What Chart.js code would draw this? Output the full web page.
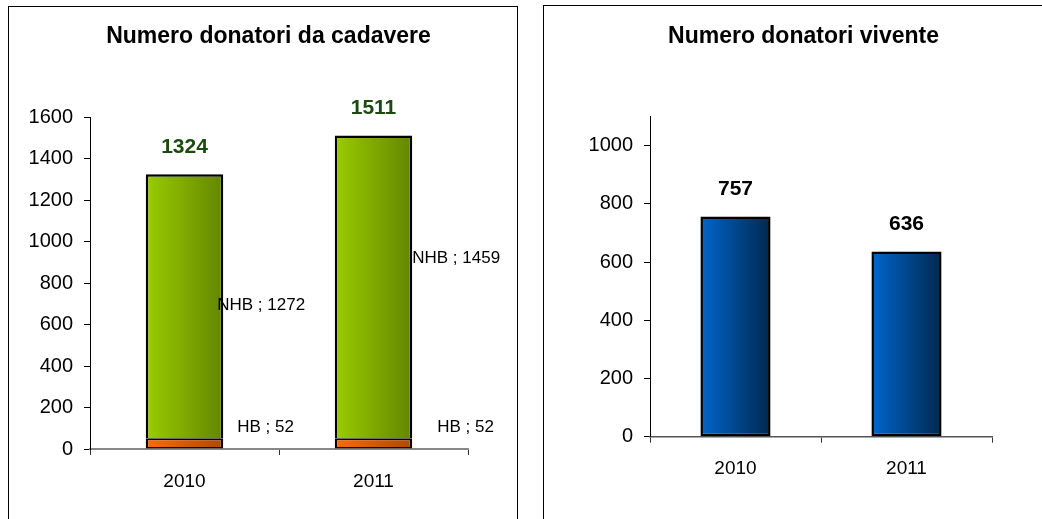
<!DOCTYPE html>
<html><head><meta charset="utf-8">
<script src="https://cdn.jsdelivr.net/npm/chart.js@4.4.1/dist/chart.umd.min.js"></script>
<style>
html,body{margin:0;padding:0;background:#fff;overflow:hidden;width:1042px;height:519px;}
.box{position:absolute;border:1px solid #000;background:#fff;}
#b1{left:8px;top:6px;width:508px;height:530px;}
#b2{left:543px;top:5px;width:540px;height:530px;}
canvas{display:block}
</style></head><body>
<div class="box" id="b1"><canvas id="c1" width="508" height="512"></canvas></div>
<div class="box" id="b2"><canvas id="c2" width="498" height="513"></canvas></div>
<script>
// ---- data ----
const years = ['2010', '2011'];
const hbValues = [52, 52];
const nhbValues = [1272, 1459];
const livingValues = [757, 636];
const title1 = 'Numero donatori da cadavere';
const title2 = 'Numero donatori vivente';
const hbName = 'HB';
const nhbName = 'NHB';

Chart.defaults.font.family = "'Liberation Sans', Arial, sans-serif";
Chart.defaults.color = '#000';
Chart.defaults.animation = false;

function grad(c1, c2) {
  return function (ctx) {
    const chart = ctx.chart;
    const xs = chart.scales && chart.scales.x;
    if (!chart.chartArea || !xs) return c1;
    const cx = xs.getPixelForValue(ctx.dataIndex);
    const w = (xs.width / chart.data.labels.length) * 0.41;
    const g = chart.ctx.createLinearGradient(cx - w / 2, 0, cx + w / 2, 0);
    g.addColorStop(0, c1);
    g.addColorStop(1, c2);
    return g;
  };
}

const labelPlugin = {
  id: 'labels',
  afterDraw(chart, args, opts) {
    const ctx = chart.ctx;
    ctx.save();
    ctx.fillStyle = '#000';
    ctx.textAlign = 'center';
    ctx.textBaseline = 'middle';
    ctx.font = "bold 23px 'Liberation Sans', Arial, sans-serif";
    ctx.fillText(opts.title, opts.titleX, opts.titleY);
    const ys = chart.scales.y;
    const last = chart.getDatasetMeta(chart.data.datasets.length - 1);
    // totals
    ctx.font = "bold 21px 'Liberation Sans', Arial, sans-serif";
    ctx.fillStyle = opts.totalColor;
    chart.data.labels.forEach((l, i) => {
      let total = 0;
      chart.data.datasets.forEach(ds => total += ds.data[i]);
      const bar = last.data[i];
      ctx.fillText(String(total), bar.x, ys.getPixelForValue(total) - 27);
    });
    // segment labels
    if (opts.segments) {
      ctx.font = "17px 'Liberation Sans', Arial, sans-serif";
      ctx.fillStyle = '#000';
      ctx.textAlign = 'left';
      chart.data.datasets.forEach((ds, di) => {
        const meta = chart.getDatasetMeta(di);
        const off = opts.segments[di];
        meta.data.forEach((bar, i) => {
          const midY = (bar.y + bar.base) / 2;
          ctx.fillText(ds.label + ' ; ' + ds.data[i], bar.x + bar.width / 2 + off.dx[i], midY + off.dy[i]);
        });
      });
    }
    ctx.restore();
  }
};

function axes(maxV, tickMax, yWidth, xLabelPad, xColor, xWidth) {
  return {
    x: {
      stacked: true,
      grid: { drawOnChartArea: false, drawTicks: true, tickLength: 6, color: '#333', offset: true },
      border: { color: xColor, width: xWidth },
      ticks: { font: { size: 19 }, padding: xLabelPad, color: '#000' },
      afterFit(s) { s.height = 40; }
    },
    y: {
      stacked: true,
      min: 0, max: maxV,
      grid: { drawOnChartArea: false, drawTicks: true, tickLength: 6, color: '#000' },
      border: { color: '#000', width: 1 },
      ticks: { stepSize: 200, font: { size: 20 }, padding: 11, color: '#000',
               callback: v => String(v) },
      afterBuildTicks(s) { s.ticks = s.ticks.filter(t => t.value <= tickMax && t.value % 200 === 0); },
      afterFit(s) { s.width = yWidth; }
    }
  };
}

new Chart(document.getElementById('c1'), {
  type: 'bar',
  data: {
    labels: years,
    datasets: [
      { label: hbName, data: hbValues, backgroundColor: grad('#ff6a00', '#b04800'),
        borderColor: '#000', borderWidth: { top: 2, left: 2.5, right: 2.5, bottom: 1.5 }, borderSkipped: false },
      { label: nhbName, data: nhbValues, backgroundColor: grad('#9acc00', '#638600'),
        borderColor: '#000', borderWidth: { top: 2.5, left: 2.5, right: 2.5, bottom: 0 }, borderSkipped: false }
    ]
  },
  options: {
    responsive: false,
    layout: { padding: { top: 110, right: 49, bottom: 30, left: 0 } },
    datasets: { bar: { categoryPercentage: 1, barPercentage: 0.41 } },
    plugins: {
      legend: { display: false }, tooltip: { enabled: false },
      labels: {
        title: title1, titleX: 259.5, titleY: 30, totalColor: '#1a4a0e',
        segments: [
          { dx: [14, 25], dy: [-15.6, -15.6] },
          { dx: [-6, 0], dy: [-1, -29] }
        ]
      }
    },
    scales: axes(1600, 1600, 81, 15.6, '#888', 2)
  },
  plugins: [labelPlugin]
});

new Chart(document.getElementById('c2'), {
  type: 'bar',
  data: {
    labels: years,
    datasets: [
      { label: 'vivente', data: livingValues, backgroundColor: grad('#0066cc', '#00284f'),
        borderColor: '#000', borderWidth: 2.5, borderSkipped: false }
    ]
  },
  options: {
    responsive: false,
    layout: { padding: { top: 110.6, right: 50, bottom: 42.3, left: 0 } },
    datasets: { bar: { categoryPercentage: 1, barPercentage: 0.41 } },
    plugins: {
      legend: { display: false }, tooltip: { enabled: false },
      labels: { title: title2, titleX: 259.5, titleY: 30.5, totalColor: '#000' }
    },
    scales: axes(1100, 1000, 106, 14.9, '#555', 1.5)
  },
  plugins: [labelPlugin]
});
</script>
</body></html>
